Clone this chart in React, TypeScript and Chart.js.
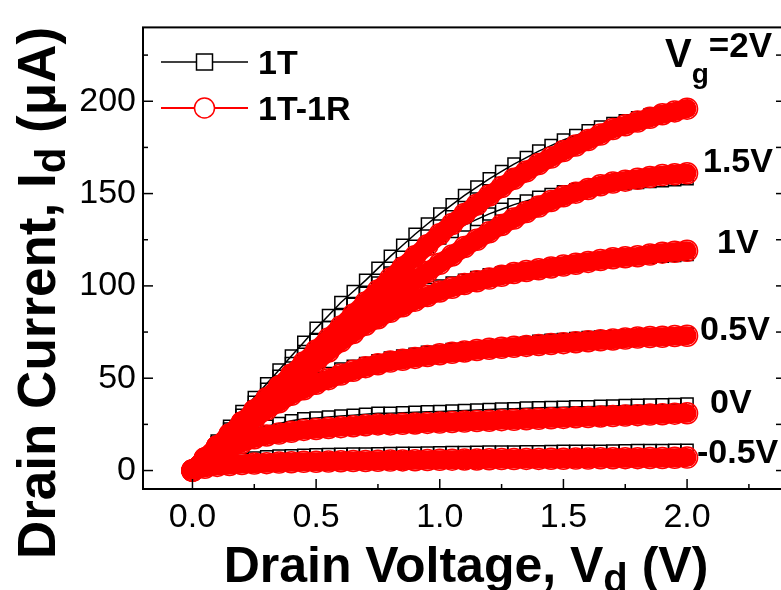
import React, { useEffect, useRef } from "react";
import { Chart, registerables } from "chart.js";

Chart.register(...registerables);

// ---------- data ----------
const drainVoltage = [0, 0.05, 0.1, 0.15, 0.2, 0.25, 0.3, 0.35, 0.4, 0.45, 0.5, 0.55, 0.6, 0.65, 0.7, 0.75, 0.8, 0.85, 0.9, 0.95, 1, 1.05, 1.1, 1.15, 1.2, 1.25, 1.3, 1.35, 1.4, 1.45, 1.5, 1.55, 1.6, 1.65, 1.7, 1.75, 1.8, 1.85, 1.9, 1.95, 2];

const gateLabels = ["2V", "1.5V", "1V", "0.5V", "0V", "-0.5V"];

// 1T (black squares)
const t_2V = [0, 8, 16, 24, 32, 39.5, 47, 54.5, 62, 69.5, 77, 84, 91, 97, 103, 109.5, 116, 122, 128, 133.5, 139, 144, 149, 153.5, 158, 162, 166, 169.5, 173, 176, 179, 181.5, 184, 186, 188, 189.5, 191, 192.5, 194, 195, 196];
const t_1p5V = [0, 7.5, 15, 22.5, 30, 37, 44, 51, 58, 64.5, 71, 77.5, 84, 90, 96, 101.5, 107, 112, 117, 121.5, 126, 129.5, 133, 136, 139, 141.5, 144, 146, 148, 149.5, 151, 152, 153, 154, 155, 155.5, 156, 156.5, 157, 157.5, 158];
const t_1V = [0, 7, 14, 21, 28, 34.5, 41, 47, 53, 58.5, 64, 69, 74, 78.5, 83, 86.5, 90, 93, 96, 98, 100, 101.5, 103, 104.5, 106, 107, 108, 109, 110, 111, 111.5, 112.5, 113, 113.5, 114, 114.5, 115, 115.5, 116, 116.5, 117];
const t_0p5V = [0, 6.5, 13, 19, 25, 30.5, 36, 40.5, 44, 47, 50, 52.5, 55, 56.5, 58, 59.5, 61, 62, 63, 64, 64.5, 65.5, 66, 66.5, 67, 67.5, 68, 69, 70, 70.5, 71, 71.5, 72, 72.3, 72.5, 72.8, 73, 73.3, 73.5, 73.8, 74];
const t_0V = [0, 6.5, 12, 16.5, 20, 22.5, 24, 25.5, 27, 28, 28.5, 29, 29.5, 30, 30.5, 31, 31, 31.3, 31.5, 31.8, 32, 32.3, 32.5, 32.8, 33, 33.3, 33.5, 33.8, 34, 34.2, 34.3, 34.5, 34.6, 34.8, 35, 35.2, 35.3, 35.5, 35.6, 35.8, 36];
const t_m0p5V = [0, 2.2, 4, 5.1, 6, 6.8, 7.5, 7.8, 8, 8.3, 8.5, 8.7, 8.8, 8.9, 9, 9.1, 9.2, 9.3, 9.4, 9.5, 9.6, 9.7, 9.8, 9.9, 10, 10, 10.1, 10.2, 10.2, 10.3, 10.4, 10.4, 10.5, 10.5, 10.6, 10.7, 10.8, 10.8, 10.9, 11, 11];

// 1T-1R (red circles)
const r_2V = [0, 6.5, 13, 19.5, 26, 32.5, 39, 45.5, 52, 58.5, 65, 71.5, 78, 84.5, 91, 97.5, 104, 110, 116, 122, 128, 133.5, 139, 144, 149, 153.5, 158, 162, 166, 169.5, 173, 176, 179, 182, 185, 187, 189, 191, 193, 194.5, 196];
const r_1p5V = [0, 6.5, 13, 19.5, 26, 32.5, 39, 45, 51, 57, 63, 69, 75, 80, 85, 89.5, 94, 98.5, 103, 107.5, 112, 116.5, 121, 125, 129, 133, 136.5, 140, 143, 146, 148.5, 150.5, 152.5, 154.5, 156, 157, 158, 159, 160, 160.5, 161];
const r_1V = [0, 6.5, 13, 19, 25, 31, 37, 42.5, 48, 53.5, 59, 64.5, 70, 74.5, 79, 82.5, 86, 89, 92, 94.5, 97, 99, 101, 102.5, 104, 105.5, 107, 108, 109, 110, 111, 112, 113, 114, 115, 115.5, 116, 117, 118, 118.5, 119];
const r_0p5V = [0, 6, 12, 17.5, 23, 28, 33, 37, 41, 44, 47, 49.5, 52, 54, 56, 57.5, 59, 60, 61, 62, 63, 63.8, 64.5, 65.3, 66, 66.5, 67, 67.5, 68, 68.5, 69, 69.5, 70, 70.5, 71, 71.5, 72, 72.3, 72.5, 72.8, 73];
const r_0V = [0, 5, 9, 12.5, 15, 17.5, 19, 20, 21, 22, 22.5, 23, 23.5, 24, 24.5, 25, 25, 25.3, 25.5, 25.8, 26, 26.3, 26.5, 26.8, 27, 27.3, 27.5, 27.8, 28, 28.3, 28.5, 28.8, 29, 29.3, 29.5, 29.8, 30, 30.3, 30.5, 30.8, 31];
const r_m0p5V = [0, 1.5, 2.5, 3, 3.5, 3.8, 4, 4.3, 4.5, 4.7, 4.8, 4.9, 5, 5.1, 5.2, 5.3, 5.4, 5.5, 5.6, 5.7, 5.8, 5.9, 6, 6, 6.1, 6.2, 6.2, 6.3, 6.3, 6.4, 6.4, 6.5, 6.5, 6.6, 6.6, 6.7, 6.7, 6.8, 6.8, 6.9, 7];

const series1T = [t_2V, t_1p5V, t_1V, t_0p5V, t_0V, t_m0p5V];
const series1T1R = [r_2V, r_1p5V, r_1V, r_0p5V, r_0V, r_m0p5V];

const xMajorTicks = [0, 0.5, 1, 1.5, 2];
const xMinorTicks = [0.25, 0.75, 1.25, 1.75, 2.25];
const yMajorTicks = [0, 50, 100, 150, 200];
const yMinorTicks = [25, 75, 125, 175, 225];

const legendLabels = ["1T", "1T-1R"];

// ---------- drawing helpers ----------
const FONT = '"Liberation Sans", Arial, Helvetica, sans-serif';

type Part = { t: string; s: number; dy?: number; w?: string };

function partsWidth(ctx: CanvasRenderingContext2D, parts: Part[]) {
  let total = 0;
  for (const p of parts) {
    ctx.font = `${p.w ?? "bold"} ${p.s}px ${FONT}`;
    total += ctx.measureText(p.t).width;
  }
  return total;
}

function drawParts(ctx: CanvasRenderingContext2D, parts: Part[], x: number, y: number, align: "left" | "center") {
  const total = partsWidth(ctx, parts);
  let cx = align === "center" ? x - total / 2 : x;
  ctx.textAlign = "left";
  ctx.textBaseline = "alphabetic";
  for (const p of parts) {
    ctx.font = `${p.w ?? "bold"} ${p.s}px ${FONT}`;
    ctx.fillText(p.t, cx, y + (p.dy ?? 0));
    cx += ctx.measureText(p.t).width;
  }
}

const framePlugin = {
  id: "frame",
  afterDatasetsDraw(chart: any) {
    const { ctx, chartArea: a, scales } = chart;
    const x = scales.x;
    const y = scales.y;
    ctx.save();
    ctx.strokeStyle = "#000";
    ctx.fillStyle = "#000";
    ctx.lineWidth = 2;
    ctx.strokeRect(a.left, a.top, a.right - a.left, a.bottom - a.top);

    const seg = (x1: number, y1: number, x2: number, y2: number) => {
      ctx.beginPath();
      ctx.moveTo(x1, y1);
      ctx.lineTo(x2, y2);
      ctx.stroke();
    };
    ctx.lineWidth = 1.5;
    for (const v of xMajorTicks) {
      const px = x.getPixelForValue(v);
      seg(px, a.bottom, px, a.bottom - 10);
    }
    for (const v of xMinorTicks) {
      const px = x.getPixelForValue(v);
      seg(px, a.bottom, px, a.bottom - 5);
    }
    for (const v of yMajorTicks) {
      const py = y.getPixelForValue(v);
      seg(a.left, py, a.left + 10, py);
      seg(a.right, py, a.right - 10, py);
    }
    for (const v of yMinorTicks) {
      const py = y.getPixelForValue(v);
      seg(a.left, py, a.left + 5, py);
      seg(a.right, py, a.right - 10, py);
    }

    // legend
    const lx1 = a.left + 18;
    const lx2 = a.left + 105;
    const lmx = (lx1 + lx2) / 2;
    const ly1 = 62;
    const ly2 = 108;
    ctx.strokeStyle = "#000";
    ctx.lineWidth = 1.5;
    seg(lx1, ly1, lx2, ly1);
    ctx.fillStyle = "#fff";
    ctx.fillRect(lmx - 8, ly1 - 8, 16, 16);
    ctx.strokeRect(lmx - 8, ly1 - 8, 16, 16);
    ctx.strokeStyle = "#ff0000";
    ctx.lineWidth = 2;
    seg(lx1, ly2, lx2, ly2);
    ctx.beginPath();
    ctx.arc(lmx, ly2, 10, 0, Math.PI * 2);
    ctx.fillStyle = "#fff";
    ctx.fill();
    ctx.lineWidth = 1.5;
    ctx.stroke();
    ctx.fillStyle = "#000";
    drawParts(ctx, [{ t: legendLabels[0], s: 34 }], lx2 + 10, ly1 + 12, "left");
    drawParts(ctx, [{ t: legendLabels[1], s: 34 }], lx2 + 10, ly2 + 12, "left");

    // gate-voltage labels
    drawParts(ctx, [{ t: "V", s: 40 }, { t: "g", s: 28, dy: 16 }, { t: "=" + gateLabels[0], s: 35, dy: -10 }], 665, 67, "left");
    drawParts(ctx, [{ t: gateLabels[1], s: 34 }], 703, 172, "left");
    drawParts(ctx, [{ t: gateLabels[2], s: 34 }], 717, 253, "left");
    drawParts(ctx, [{ t: gateLabels[3], s: 34 }], 700, 340, "left");
    drawParts(ctx, [{ t: gateLabels[4], s: 34 }], 710, 413, "left");
    drawParts(ctx, [{ t: gateLabels[5], s: 34 }], 697, 463, "left");

    // axis titles
    drawParts(ctx, [{ t: "Drain Voltage, V", s: 50 }, { t: "d", s: 40, dy: 10 }, { t: " (V)", s: 50 }], 466, 582, "center");
    ctx.save();
    ctx.translate(55, 293);
    ctx.rotate(-Math.PI / 2);
    drawParts(ctx, [{ t: "Drain Current, I", s: 53 }, { t: "d", s: 42, dy: 10 }, { t: " (\u03BCA)", s: 53 }], 0, 0, "center");
    ctx.restore();

    ctx.restore();
  },
};

export default function App() {
  const canvasRef = useRef<HTMLCanvasElement | null>(null);

  useEffect(() => {
    const canvas = canvasRef.current;
    if (!canvas) return;

    const redSets = series1T1R.map((vals, i) => ({
      label: `${legendLabels[1]} ${gateLabels[i]}`,
      data: drainVoltage.map((v, j) => ({ x: v, y: vals[j] })),
      borderColor: "#ff0000",
      borderWidth: 19,
      borderJoinStyle: "round" as const,
      borderCapStyle: "round" as const,
      pointStyle: "circle" as const,
      pointRadius: 10.5,
      pointBorderWidth: 1.5,
      pointBorderColor: "#ff0000",
      pointBackgroundColor: "rgba(255,255,255,0)",
      showLine: true,
      tension: 0,
      order: 0,
    }));
    const blackSets = series1T.map((vals, i) => ({
      label: `${legendLabels[0]} ${gateLabels[i]}`,
      data: drainVoltage.map((v, j) => ({ x: v, y: vals[j] })),
      borderColor: "#000",
      borderWidth: 1.5,
      pointStyle: "rect" as const,
      pointRadius: 8.5,
      pointBorderWidth: 1.5,
      pointBorderColor: "#000",
      pointBackgroundColor: "rgba(255,255,255,0)",
      showLine: true,
      tension: 0,
      order: 1,
    }));

    const chart = new Chart(canvas, {
      type: "scatter",
      data: { datasets: [...redSets, ...blackSets] as any },
      options: {
        responsive: false,
        animation: false,
        layout: { padding: { left: 0, right: 14, top: 16, bottom: 0 } },
        plugins: {
          legend: { display: false },
          tooltip: { enabled: false },
        },
        scales: {
          x: {
            type: "linear",
            min: -0.2,
            max: 2.4,
            afterFit: (s: any) => {
              s.height = 101;
            },
            afterBuildTicks: (s: any) => {
              s.ticks = xMajorTicks.map((v) => ({ value: v }));
            },
            grid: { display: false, drawTicks: false },
            border: { display: false },
            ticks: {
              autoSkip: false,
              maxRotation: 0,
              color: "#000",
              padding: 8,
              font: { family: FONT, size: 34 },
              callback: (v: any) => Number(v).toFixed(1),
            },
          },
          y: {
            type: "linear",
            min: -10,
            max: 240,
            afterFit: (s: any) => {
              s.width = 143;
            },
            afterBuildTicks: (s: any) => {
              s.ticks = yMajorTicks.map((v) => ({ value: v }));
            },
            grid: { display: false, drawTicks: false },
            border: { display: false },
            ticks: {
              autoSkip: false,
              color: "#000",
              padding: 7,
              font: { family: FONT, size: 34 },
              callback: (v: any) => String(v),
            },
          },
        },
      } as any,
      plugins: [framePlugin],
    });

    return () => chart.destroy();
  }, []);

  return (
    <div style={{ position: "absolute", left: 0, top: 0, width: 781, height: 590, overflow: "hidden", background: "#fff" }}>
      <canvas ref={canvasRef} width={800} height={590} style={{ display: "block" }} />
    </div>
  );
}
